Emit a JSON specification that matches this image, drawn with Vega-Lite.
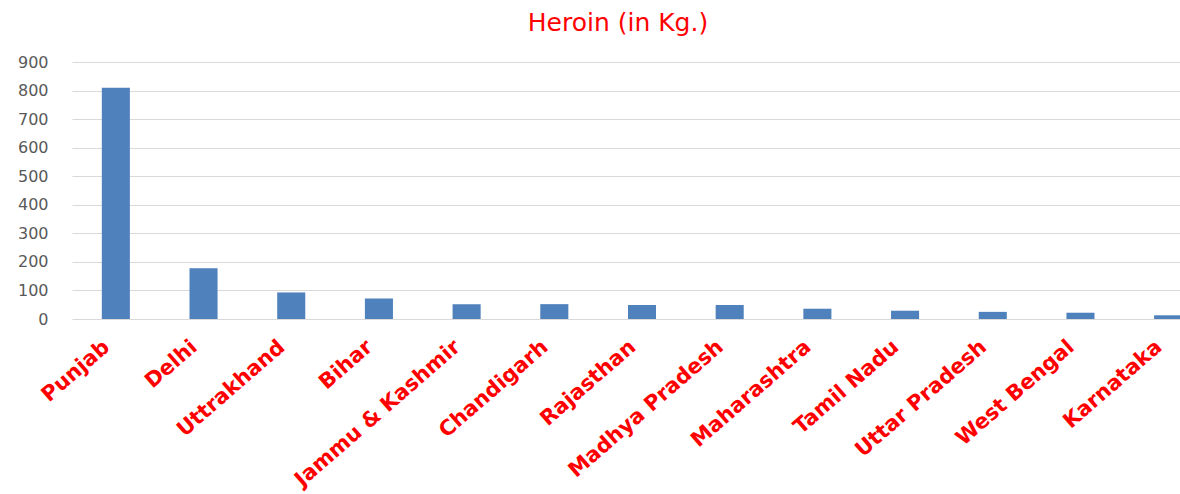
{
  "$schema": "https://vega.github.io/schema/vega-lite/v6.json",
  "width": 1108,
  "height": 257,
  "autosize": {"type": "none"},
  "padding": {"left": 72, "top": 62, "right": 0, "bottom": 175},
  "background": "white",
  "title": {
    "text": "Heroin (in Kg.)",
    "color": "#FF0000",
    "font": "DejaVu Sans",
    "fontSize": 25,
    "fontWeight": "normal",
    "anchor": "middle",
    "frame": "group",
    "offset": 18,
    "dx": -8
  },
  "data": {
    "values": [
      {"state": "Punjab", "kg": 810},
      {"state": "Delhi", "kg": 178},
      {"state": "Uttrakhand", "kg": 93},
      {"state": "Bihar", "kg": 72},
      {"state": "Jammu & Kashmir", "kg": 52},
      {"state": "Chandigarh", "kg": 52},
      {"state": "Rajasthan", "kg": 49},
      {"state": "Madhya Pradesh", "kg": 49},
      {"state": "Maharashtra", "kg": 36},
      {"state": "Tamil Nadu", "kg": 29},
      {"state": "Uttar Pradesh", "kg": 25},
      {"state": "West Bengal", "kg": 22},
      {"state": "Karnataka", "kg": 13}
    ]
  },
  "mark": {"type": "bar", "color": "#4F81BD"},
  "encoding": {
    "x": {
      "field": "state",
      "type": "nominal",
      "sort": null,
      "title": null,
      "scale": {"range": [0, 1140], "paddingInner": 0.68, "paddingOuter": 0.34},
      "axis": {
        "labelAngle": -41,
        "labelAlign": "right",
        "labelBaseline": "middle",
        "labelColor": "#FF0000",
        "labelFont": "DejaVu Sans",
        "labelFontSize": 21,
        "labelFontWeight": "bold",
        "labelPadding": 25,
        "labelOffset": -9,
        "labelOverlap": false,
        "labelLimit": 400,
        "domain": false,
        "ticks": false,
        "grid": false
      }
    },
    "y": {
      "field": "kg",
      "type": "quantitative",
      "title": null,
      "scale": {"domain": [0, 900]},
      "axis": {
        "values": [0, 100, 200, 300, 400, 500, 600, 700, 800, 900],
        "labelColor": "#595959",
        "labelFont": "DejaVu Sans",
        "labelFontSize": 16,
        "labelPadding": 24,
        "domain": false,
        "ticks": false,
        "grid": true,
        "gridColor": "#D9D9D9",
        "gridWidth": 1
      }
    }
  },
  "config": {"view": {"stroke": null}}
}
